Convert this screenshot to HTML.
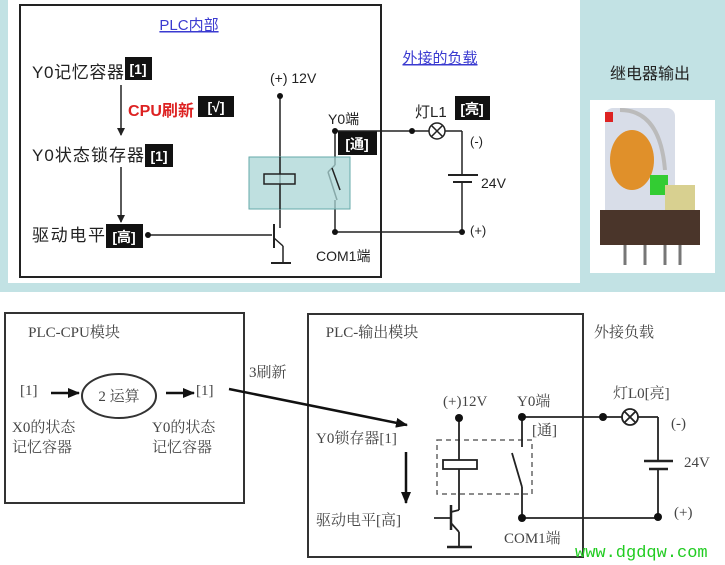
<!DOCTYPE html>
<html><head><meta charset="utf-8"><style>
html,body{margin:0;padding:0;background:#fff;}
svg{display:block;font-family:"Liberation Sans","Noto Sans CJK SC",sans-serif;}
</style></head><body>
<svg width="725" height="565" viewBox="0 0 725 565" xmlns="http://www.w3.org/2000/svg">
<defs>
<marker id="ah" markerWidth="8" markerHeight="8" refX="7" refY="4" orient="auto" markerUnits="userSpaceOnUse"><path d="M0,0 L8,4 L0,8 z" fill="#222"/></marker>
<marker id="ah2" markerWidth="12" markerHeight="10" refX="11" refY="5" orient="auto" markerUnits="userSpaceOnUse"><path d="M0,0 L12,5 L0,10 z" fill="#111"/></marker>
</defs>
<rect x="0" y="0" width="725" height="292" fill="#c2e2e4"/>
<rect x="8" y="0" width="572" height="283" fill="#fff"/>
<rect x="20" y="5" width="361" height="272" fill="none" stroke="#222" stroke-width="2"/>
<text x="189" y="30" font-size="15" fill="#3a3ad0" text-anchor="middle" text-decoration="underline">PLC内部</text>
<text x="440" y="63" font-size="15" fill="#3a3ad0" text-anchor="middle" text-decoration="underline">外接的负载</text>
<g font-size="17" fill="#222">
<text x="32" y="78" textLength="92">Y0记忆容器</text>
<text x="32" y="161" textLength="112">Y0状态锁存器</text>
<text x="32" y="241" textLength="73">驱动电平</text>
<text x="270" y="83" font-size="14">(+) 12V</text>
<text x="328" y="124" font-size="14">Y0端</text>
<text x="316" y="261" font-size="14">COM1端</text>
<text x="415" y="117" font-size="15">灯L1</text>
<text x="470" y="146" font-size="13">(-)</text>
<text x="481" y="188" font-size="14">24V</text>
<text x="470" y="235" font-size="13">(+)</text>
</g>
<text x="128" y="116" font-size="16" font-weight="bold" fill="#d22" textLength="66">CPU刷新</text>
<g fill="#111">
<rect x="125" y="57" width="27" height="23"/>
<rect x="198" y="96" width="36" height="21"/>
<rect x="145" y="144" width="28" height="23"/>
<rect x="106" y="224" width="37" height="24"/>
<rect x="338" y="131" width="39" height="24"/>
<rect x="455" y="96" width="35" height="24"/>
</g>
<g fill="#fff" font-size="14" font-weight="bold" text-anchor="middle">
<text x="138" y="74">[1]</text>
<text x="216" y="112">[√]</text>
<text x="159" y="161">[1]</text>
<text x="124" y="242">[高]</text>
<text x="357" y="149">[通]</text>
<text x="472" y="114">[亮]</text>
</g>
<g stroke="#222" stroke-width="1.5" fill="none">
<line x1="121" y1="85" x2="121" y2="135" marker-end="url(#ah)"/>
<line x1="121" y1="167" x2="121" y2="222" marker-end="url(#ah)"/>
<line x1="148" y1="235" x2="272" y2="235"/>
<line x1="274" y1="224" x2="274" y2="248" stroke-width="2"/>
<line x1="280" y1="96" x2="280" y2="228"/>
<line x1="274" y1="238" x2="283" y2="246"/>
<line x1="283" y1="246" x2="283" y2="263"/>
<line x1="271" y1="263" x2="291" y2="263" stroke-width="2"/>
<line x1="335" y1="131" x2="429" y2="131"/>
<line x1="445" y1="131" x2="462" y2="131"/>
<line x1="462" y1="131" x2="462" y2="175"/>
<line x1="462" y1="182" x2="462" y2="232"/>
<line x1="335" y1="232" x2="462" y2="232"/>
<line x1="335" y1="131" x2="335" y2="165"/>
<line x1="335" y1="165" x2="328" y2="172"/>
<line x1="328" y1="172" x2="337" y2="200"/>
<line x1="335" y1="200" x2="335" y2="232"/>
<line x1="448" y1="175" x2="478" y2="175" stroke-width="2"/>
<line x1="453" y1="182" x2="472" y2="182" stroke-width="2"/>
</g>
<rect x="249" y="157" width="101" height="52" fill="#a9d6d6" fill-opacity="0.75" stroke="#6aa" stroke-width="1"/>
<rect x="264" y="174" width="31" height="10" fill="none" stroke="#222" stroke-width="1.5"/>
<line x1="280" y1="157" x2="280" y2="174" stroke="#222" stroke-width="1.5"/>
<line x1="280" y1="184" x2="280" y2="209" stroke="#222" stroke-width="1.5"/>
<line x1="332" y1="168" x2="340" y2="190" stroke="#222" stroke-width="1.5"/>
<circle cx="437" cy="131" r="8" fill="#fff" stroke="#222" stroke-width="1.5"/>
<path d="M431,125 L443,137 M443,125 L431,137" stroke="#222" stroke-width="1.5"/>
<g fill="#111">
<circle cx="148" cy="235" r="3"/><circle cx="280" cy="96" r="3"/><circle cx="335" cy="131" r="3"/>
<circle cx="412" cy="131" r="3"/><circle cx="335" cy="232" r="3"/><circle cx="462" cy="232" r="3"/>
</g>
<text x="650" y="79" font-size="16" fill="#222" text-anchor="middle">继电器输出</text>
<rect x="590" y="100" width="125" height="173" fill="#fff"/>
<rect x="605" y="108" width="70" height="120" rx="8" fill="#d8dde8"/>
<ellipse cx="632" cy="160" rx="22" ry="30" fill="#e0902a"/>
<path d="M620,110 q40,0 45,60" stroke="#bbb" stroke-width="4" fill="none"/>
<rect x="650" y="175" width="18" height="20" fill="#3c3"/>
<rect x="665" y="185" width="30" height="35" fill="#d8d090"/>
<rect x="600" y="210" width="100" height="35" fill="#4a352a"/>
<rect x="605" y="112" width="8" height="10" fill="#d22"/>
<g stroke="#777" stroke-width="3"><line x1="625" y1="245" x2="625" y2="265"/><line x1="645" y1="245" x2="645" y2="265"/><line x1="665" y1="245" x2="665" y2="265"/><line x1="680" y1="245" x2="680" y2="265"/></g>
<g stroke="#333" stroke-width="2" fill="none">
<rect x="5" y="313" width="239" height="190"/>
<rect x="308" y="314" width="275" height="243"/>
</g>
<g font-family="Liberation Serif,Noto Serif CJK SC,serif" fill="#444" font-size="15">
<text x="74" y="337" text-anchor="middle">PLC-CPU模块</text>
<text x="372" y="337" text-anchor="middle">PLC-输出模块</text>
<text x="594" y="337">外接负载</text>
<text x="20" y="395">[1]</text>
<text x="196" y="395">[1]</text>
<text x="119" y="401" text-anchor="middle">2 运算</text>
<text x="12" y="432">X0的状态</text>
<text x="12" y="452">记忆容器</text>
<text x="152" y="432">Y0的状态</text>
<text x="152" y="452">记忆容器</text>
<text x="249" y="377">3刷新</text>
<text x="316" y="443">Y0锁存器[1]</text>
<text x="316" y="525">驱动电平[高]</text>
<text x="443" y="406">(+)12V</text>
<text x="517" y="406">Y0端</text>
<text x="532" y="435">[通]</text>
<text x="504" y="543">COM1端</text>
<text x="613" y="398">灯L0[亮]</text>
<text x="671" y="428">(-)</text>
<text x="684" y="467">24V</text>
<text x="674" y="517">(+)</text>
</g>
<ellipse cx="119" cy="396" rx="37" ry="22" fill="none" stroke="#333" stroke-width="2"/>
<g stroke="#111" stroke-width="2.5" fill="none">
<line x1="51" y1="393" x2="79" y2="393" marker-end="url(#ah2)"/>
<line x1="166" y1="393" x2="194" y2="393" marker-end="url(#ah2)"/>
<line x1="229" y1="389" x2="407" y2="425" marker-end="url(#ah2)"/>
<line x1="406" y1="452" x2="406" y2="503" marker-end="url(#ah2)"/>
</g>
<rect x="437" y="440" width="95" height="54" fill="none" stroke="#666" stroke-width="1.5" stroke-dasharray="5,4"/>
<g stroke="#222" stroke-width="1.8" fill="none">
<line x1="459" y1="417" x2="459" y2="460"/>
<rect x="443" y="460" width="34" height="9"/>
<line x1="459" y1="469" x2="459" y2="510"/>
<line x1="434" y1="518" x2="451" y2="518"/>
<line x1="451" y1="505" x2="451" y2="530" stroke-width="2.5"/>
<line x1="451" y1="523" x2="459" y2="532"/>
<line x1="459" y1="532" x2="459" y2="546"/>
<line x1="451" y1="512" x2="459" y2="510"/>
<line x1="447" y1="547" x2="472" y2="547" stroke-width="2.5"/>
<line x1="522" y1="417" x2="522" y2="447"/>
<line x1="512" y1="453" x2="522" y2="487"/>
<line x1="522" y1="487" x2="522" y2="518"/>
<line x1="522" y1="417" x2="622" y2="417"/>
<line x1="638" y1="417" x2="658" y2="417"/>
<line x1="658" y1="417" x2="658" y2="461"/>
<line x1="658" y1="469" x2="658" y2="517"/>
<line x1="522" y1="518" x2="660" y2="518"/>
<line x1="644" y1="461" x2="673" y2="461" stroke-width="2.5"/>
<line x1="649" y1="469" x2="668" y2="469" stroke-width="2.5"/>
</g>
<circle cx="630" cy="417" r="8" fill="#fff" stroke="#222" stroke-width="1.8"/>
<path d="M624,411 L636,423 M636,411 L624,423" stroke="#222" stroke-width="1.8"/>
<g fill="#111">
<circle cx="459" cy="418" r="4"/><circle cx="522" cy="417" r="4"/><circle cx="603" cy="417" r="4"/>
<circle cx="522" cy="518" r="4"/><circle cx="658" cy="517" r="4"/>
</g>
<text x="575" y="557" font-family="Liberation Mono,monospace" font-size="17" fill="#2c2">www.dgdqw.com</text>
</svg>
</body></html>
